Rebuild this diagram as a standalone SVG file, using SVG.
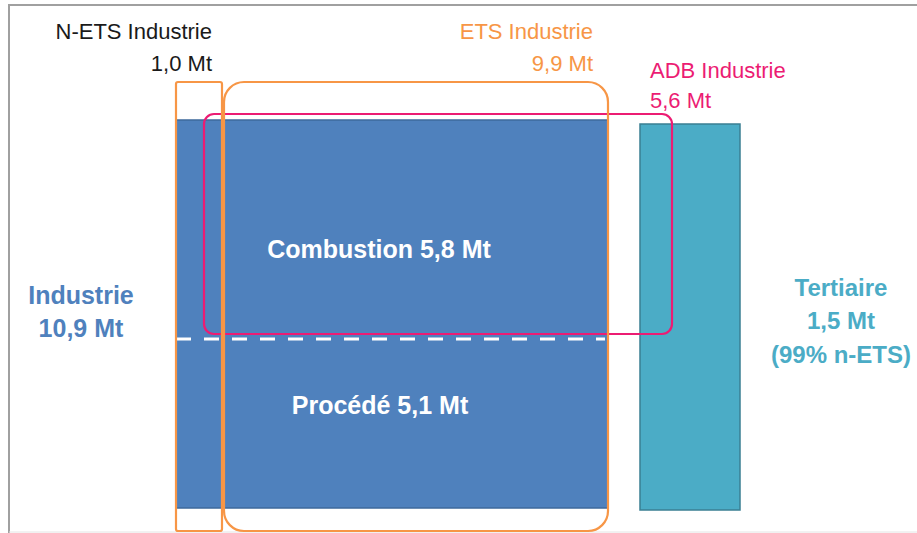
<svg xmlns="http://www.w3.org/2000/svg" width="917" height="533" viewBox="0 0 917 533">
<style>
text{font-family:"Liberation Sans",Arial,sans-serif}
.lbl{font-size:22px}
.big{font-size:25px;font-weight:bold}
.big24{font-size:24px;font-weight:bold}
.org{fill:#f79646}
.pnk{fill:#ec1c73}
.box{fill:none;stroke-width:2.2}
</style>
<rect x="0" y="0" width="917" height="533" fill="#ffffff"/>
<g id="frame">
<line x1="8" y1="5" x2="917" y2="5" stroke="#a0a0a0" stroke-width="2"/>
<line x1="9" y1="5" x2="9" y2="533" stroke="#a0a0a0" stroke-width="2"/>
<line x1="9" y1="532" x2="917" y2="532" stroke="#e4e4e4" stroke-width="1"/>
</g>
<g id="industrie-bar">
<rect x="176" y="120" width="432" height="388" fill="#4f81bd" stroke="#3e6a9c" stroke-width="1.5"/>
<line x1="176" y1="339" x2="605" y2="339" stroke="#ffffff" stroke-width="3" stroke-dasharray="15,13"/>
<text class="big" x="379" y="258" text-anchor="middle" fill="#ffffff">Combustion 5,8 Mt</text>
<text class="big" x="380" y="414" text-anchor="middle" fill="#ffffff">Procédé 5,1 Mt</text>
</g>
<g id="tertiaire-bar">
<rect x="640" y="124" width="100" height="386" fill="#4bacc6" stroke="#3a7f93" stroke-width="1.5"/>
</g>
<g id="adb-box">
<rect class="box" x="204" y="114" width="468" height="220" rx="10" stroke="#ec1c73"/>
<text class="lbl pnk" x="650" y="78">ADB Industrie</text>
<text class="lbl pnk" x="650" y="108">5,6 Mt</text>
</g>
<g id="n-ets-box">
<rect class="box" x="176" y="82" width="46" height="449" rx="2" stroke="#f79646"/>
<text class="lbl" x="212" y="39" text-anchor="end" fill="#1a1a1a">N-ETS Industrie</text>
<text class="lbl" x="212" y="71" text-anchor="end" fill="#1a1a1a">1,0 Mt</text>
</g>
<g id="ets-box">
<rect class="box" x="224" y="82" width="384" height="449" rx="20" stroke="#f79646"/>
<text class="lbl org" x="593" y="39" text-anchor="end">ETS Industrie</text>
<text class="lbl org" x="593" y="71" text-anchor="end">9,9 Mt</text>
</g>
<g id="industrie-label" fill="#4f81bd">
<text class="big" x="81" y="304" text-anchor="middle">Industrie</text>
<text class="big" x="81" y="337" text-anchor="middle">10,9 Mt</text>
</g>
<g id="tertiaire-label" fill="#4bacc6">
<text class="big24" x="841" y="296" text-anchor="middle">Tertiaire</text>
<text class="big24" x="841" y="329" text-anchor="middle">1,5 Mt</text>
<text class="big24" x="841" y="363" text-anchor="middle">(99% n-ETS)</text>
</g>
<g id="connectors"/>
</svg>
